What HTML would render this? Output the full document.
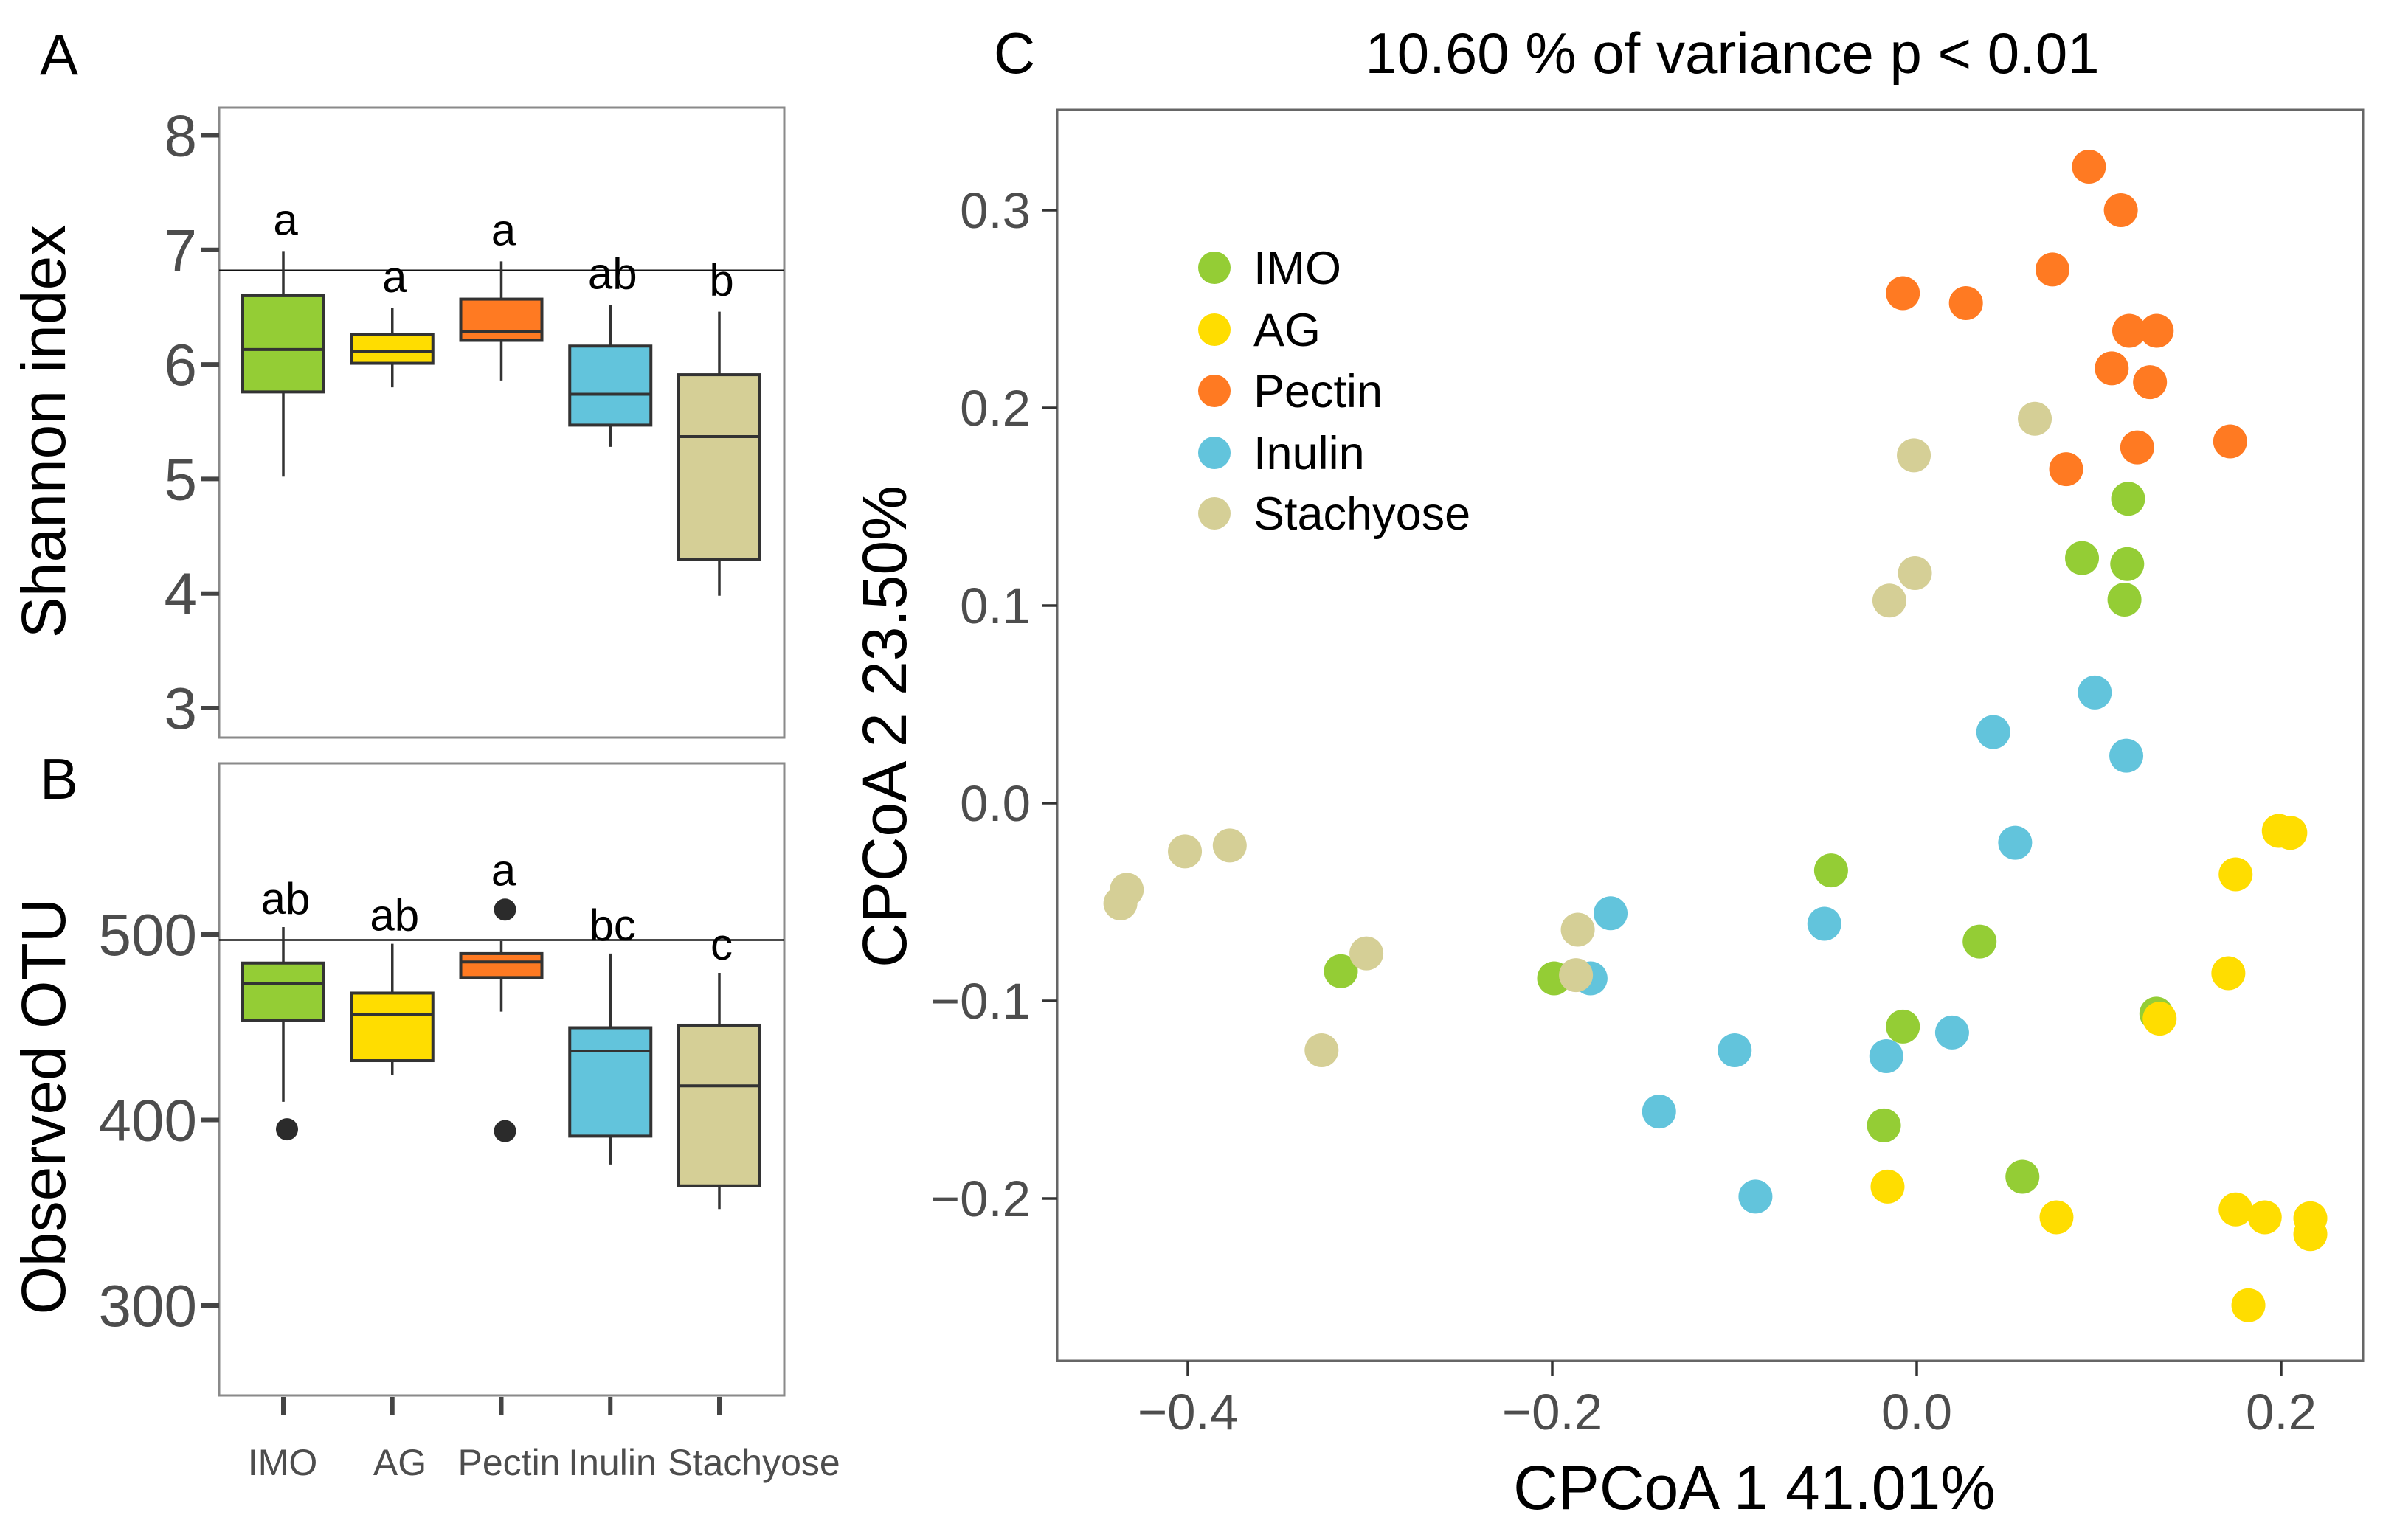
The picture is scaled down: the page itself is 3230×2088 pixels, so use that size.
<!DOCTYPE html>
<html><head><meta charset="utf-8"><style>
html,body{margin:0;padding:0;background:#fff}
svg{display:block;font-family:"Liberation Sans",Arial,sans-serif}
</style></head><body>
<svg id="fig" width="3230" height="2088" viewBox="0 0 3230 2088" xmlns="http://www.w3.org/2000/svg"></svg>
<script>
const categories = ["IMO","AG","Pectin","Inulin","Stachyose"];
const colors = ["#94cd35","#ffdd00","#ff7a22","#62c4dc","#d5cf96"];
// [low, q1, median, q3, high]
const shannonStats = [[5.02,5.76,6.13,6.60,6.99],[5.80,6.01,6.11,6.26,6.49],[5.86,6.21,6.29,6.57,6.90],[5.28,5.47,5.74,6.16,6.52],[3.98,4.30,5.37,5.91,6.46]];
const shannonLetters = ["a","a","a","ab","b"];
const shannonTicks = [3,4,5,6,7,8];
const shannonRef = 6.82;
const otuStats = [[409.8,453.6,473.7,484.6,504],[424.3,432,457,468.4,495],[458.4,476.8,485.2,489.7,496.4],[376,391.3,437.2,449.7,489.7],[352,364.5,418.4,451.1,479.3]];
const otuOutliers = [[395],[],[513.4,394],[],[]];
const otuLetters = ["ab","ab","a","bc","c"];
const otuTicks = [300,400,500];
const otuRef = 497;
const xTicksC = [-0.4,-0.2,0.0,0.2];
const yTicksC = [-0.2,-0.1,0.0,0.1,0.2,0.3];
const imoX = [0.116,0.0907,0.1155,0.114,-0.047,0.0345,-0.316,-0.199,-0.0076,0.1315,-0.018,0.058];
const imoY = [0.154,0.124,0.121,0.103,-0.034,-0.070,-0.085,-0.0886,-0.113,-0.1065,-0.163,-0.189];
const agX = [0.1987,0.205,0.175,0.171,0.1333,-0.016,0.0767,0.175,0.191,0.216,0.216,0.182];
const agY = [-0.014,-0.015,-0.036,-0.086,-0.109,-0.194,-0.2095,-0.2055,-0.2095,-0.210,-0.218,-0.254];
const pectinX = [0.0945,0.112,0.0745,-0.0076,0.027,0.1166,0.1317,0.107,0.128,0.121,0.082,0.172];
const pectinY = [0.322,0.300,0.270,0.258,0.253,0.239,0.239,0.220,0.213,0.180,0.169,0.183];
const inulinX = [0.0977,0.042,0.115,0.054,-0.168,-0.0507,-0.179,0.0194,-0.0999,-0.0167,-0.1414,-0.0885];
const inulinY = [0.056,0.036,0.024,-0.020,-0.0557,-0.061,-0.0886,-0.116,-0.125,-0.128,-0.156,-0.199];
const stachX = [0.0648,-0.0016,-0.001,-0.015,-0.377,-0.4016,-0.4335,-0.437,-0.302,-0.186,-0.187,-0.3266];
const stachY = [0.1945,0.176,0.1164,0.1025,-0.0214,-0.0244,-0.0438,-0.0507,-0.076,-0.064,-0.087,-0.125];

const NS="http://www.w3.org/2000/svg", svg=document.getElementById('fig');
function mk(tag, attrs, parent, text){const e=document.createElementNS(NS,tag);for(const k in attrs)e.setAttribute(k,attrs[k]);if(text!==undefined)e.textContent=text;(parent||svg).appendChild(e);return e;}

const boxL=297, boxR=1063, catX=i=>384+i*147.75, halfW=55;

function boxPanel(name, top, bottom, yScale, stats, letters, ticks, ref, outliers, letterGap){
  const g=mk('g',{});  
  const frame=mk('rect',{x:boxL,y:top,width:boxR-boxL,height:bottom-top,fill:'none',stroke:'#8a8a8a','stroke-width':3},g);
   
  ticks.forEach(t=>{const y=yScale(t);
    const tk=mk('line',{x1:boxL-25,x2:boxL,y1:y,y2:y,stroke:'#444','stroke-width':6},g);
     
    const tl=mk('text',{x:boxL-30,y:y+28,'text-anchor':'end','font-size':80,fill:'#4d4d4d'},g,String(t));
     
  });
  const rl=mk('line',{x1:boxL,x2:boxR,y1:yScale(ref),y2:yScale(ref),stroke:'#111','stroke-width':2.5},g);
   
  stats.forEach((s,i)=>{const cx=catX(i);
    const w=mk('line',{x1:cx,x2:cx,y1:yScale(s[0]),y2:yScale(s[4]),stroke:'#333','stroke-width':3.5},g);
     
    const b=mk('rect',{x:cx-halfW,y:yScale(s[3]),width:2*halfW,height:yScale(s[1])-yScale(s[3]),fill:colors[i],stroke:'#333','stroke-width':4},g);
     
    const m=mk('line',{x1:cx-halfW,x2:cx+halfW,y1:yScale(s[2]),y2:yScale(s[2]),stroke:'#333','stroke-width':4},g);
     
    let topY=yScale(s[4]);
    if(outliers) outliers[i].forEach(v=>{topY=Math.min(topY,yScale(v)-15);});
    const lt=mk('text',{x:cx+3,y:topY-letterGap,'text-anchor':'middle','font-size':60,fill:'#000'},g,letters[i]);
     
    if(outliers) outliers[i].forEach(v=>{
      const o=mk('circle',{cx:cx+5,cy:yScale(v),r:15,fill:'#2b2b2b'},g);
       
    });
  });
  return g;
}

const yA=v=>183.5+(8-v)*155.3;
boxPanel('shannon',146,1000,yA,shannonStats,shannonLetters,shannonTicks,shannonRef,null,22);
let t=mk('text',{x:80,y:101,'text-anchor':'middle','font-size':78,fill:'#000'},svg,'A');
 
t=mk('text',{x:0,y:0,'text-anchor':'middle','font-size':84,fill:'#000',transform:'translate(88,585) rotate(-90)'},svg,'Shannon index');
 

const yB=v=>1267+(500-v)*2.515;
const gB=boxPanel('otu',1035,1892,yB,otuStats,otuLetters,otuTicks,otuRef,otuOutliers,18);
categories.forEach((c,i)=>{const cx=catX(i);
  const tk=mk('line',{x1:cx,x2:cx,y1:1894,y2:1918,stroke:'#444','stroke-width':6},gB);
   
});
const catLabelX=[383,542,690,830,1022];
categories.forEach((c,i)=>{
  const l=mk('text',{x:catLabelX[i],y:2000,'text-anchor':'middle','font-size':50,fill:'#4d4d4d'},gB,c);
   
});
t=mk('text',{x:80,y:1083,'text-anchor':'middle','font-size':78,fill:'#000'},svg,'B');
 
t=mk('text',{x:0,y:0,'text-anchor':'middle','font-size':84,fill:'#000',transform:'translate(88,1500) rotate(-90)'},svg,'Observed OTU');
 

const cL=1433,cR=3203,cT=149,cB=1845;
const xC=v=>2598+v*2470, yC=v=>1089-v*2680;
const gC=mk('g',{});  
let fr=mk('rect',{x:cL,y:cT,width:cR-cL,height:cB-cT,fill:'none',stroke:'#666','stroke-width':3},gC);
 
yTicksC.forEach(v=>{const y=yC(v);
  const tk=mk('line',{x1:cL-20,x2:cL,y1:y,y2:y,stroke:'#333','stroke-width':3.5},gC);
   
  const tl=mk('text',{x:cL-36,y:y+24,'text-anchor':'end','font-size':69,fill:'#4d4d4d'},gC,(v<0?'\u2212':'')+Math.abs(v).toFixed(1));
   
});
xTicksC.forEach(v=>{const x=xC(v);
  const tk=mk('line',{x1:x,x2:x,y1:cB,y2:cB+20,stroke:'#333','stroke-width':3.5},gC);
   
  const tl=mk('text',{x:x,y:1938,'text-anchor':'middle','font-size':69,fill:'#4d4d4d'},gC,(v<0?'\u2212':'')+Math.abs(v).toFixed(1));
   
});
const series=[['imo',imoX,imoY,0],['ag',agX,agY,1],['pectin',pectinX,pectinY,2],['inulin',inulinX,inulinY,3],['stachyose',stachX,stachY,4]];
series.forEach(([n,xs,ys,ci])=>{xs.forEach((xv,j)=>{
  const p=mk('circle',{cx:xC(xv),cy:yC(ys[j]),r:23,fill:colors[ci]},gC);
   
});});
const legY=[363,447,530,614,696];
categories.forEach((c,i)=>{
  const d=mk('circle',{cx:1646,cy:legY[i],r:22,fill:colors[i]},gC);
   
  const l=mk('text',{x:1699,y:legY[i]+22,'font-size':63,fill:'#000'},gC,c);
   
});
t=mk('text',{x:1375,y:99,'text-anchor':'middle','font-size':78,fill:'#000'},svg,'C');
 
t=mk('text',{x:2348,y:99,'text-anchor':'middle','font-size':78,fill:'#000'},svg,'10.60 % of variance p < 0.01');
 
t=mk('text',{x:2378,y:2046,'text-anchor':'middle','font-size':84,fill:'#000'},svg,'CPCoA 1 41.01%');
 
t=mk('text',{x:0,y:0,'text-anchor':'middle','font-size':84,fill:'#000',transform:'translate(1228,985) rotate(-90)'},svg,'CPCoA 2 23.50%');
 
</script>
</body></html>
